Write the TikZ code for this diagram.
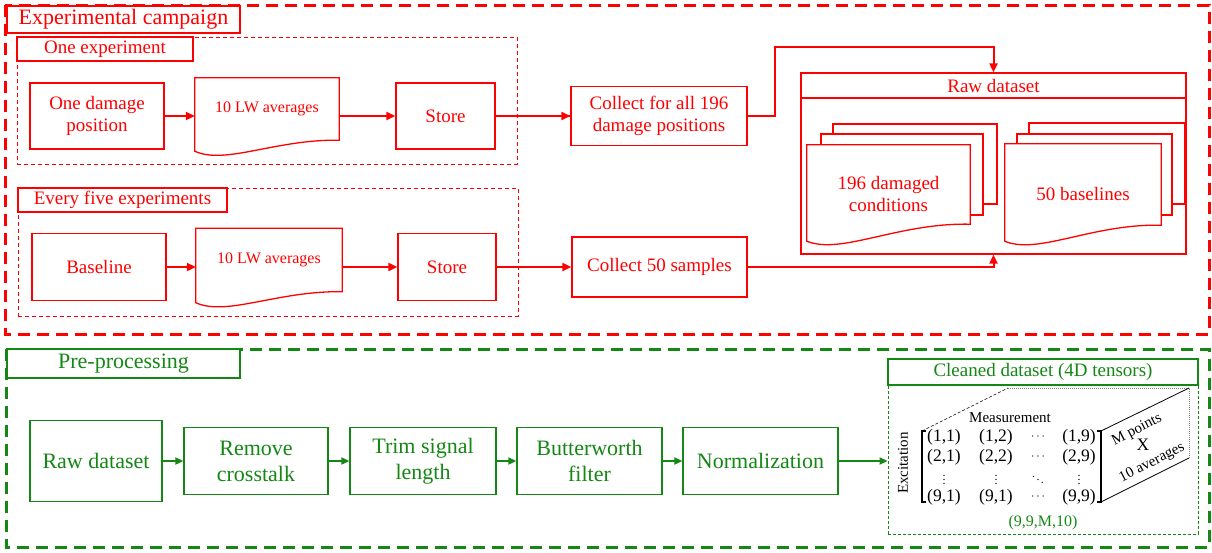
\documentclass[tikz,border=0pt]{standalone}
\usepackage{fontspec}
\setmainfont{Liberation Serif}
\usetikzlibrary{arrows.meta,calc}

\definecolor{campred}{RGB}{255,0,0}
\definecolor{procgreen}{RGB}{20,135,20}
\newcommand\setfs[2]{\fontsize{#1}{#2}\selectfont}

% Document shape with a wavy lower edge; the node spans top edge to the
% raised right-hand bottom corner, #2 is how far the left corner hangs below.
\newcommand\wavedoc[3]{%
  \draw[#3] (#1.north west) -- (#1.north east) -- (#1.south east)
    .. controls ($(#1.south west)!0.56!(#1.south east)+(0,{-0.1*#2})$)
       and ($(#1.south west)!0.21!(#1.south east)+(0,{#2+14})$)
    .. ($(#1.south west)+(0,#2)$) -- cycle;}

\tikzset{
  rbox/.style={draw=campred, line width=1.3pt, fill=white, inner sep=0pt,
    align=center, text=campred, font=\setfs{19}{22}},
  rtitle/.style={rbox, font=\setfs{22}{24}},
  rregion/.style={draw=campred, line width=0.9pt, dash pattern=on 4pt off 3pt,
    inner sep=0pt},
  rdoc/.style={inner sep=0pt, align=center, text=campred, font=\setfs{16}{19}},
  rdocline/.style={draw=campred, line width=1.3pt},
  rarr/.style={draw=campred, line width=2pt, -{Triangle[length=9pt,width=8pt]}},
  gbox/.style={draw=procgreen, line width=1.3pt, fill=white, inner sep=0pt,
    align=center, text=procgreen, font=\setfs{22}{26}},
  garr/.style={draw=procgreen, line width=1.8pt, -{Triangle[length=8pt,width=7pt]}},
  outer/.style={line width=3pt, dash pattern=on 12pt off 7pt},
  mtx/.style={inner sep=0pt, font=\setfs{17.5}{20}},
  mdots/.style={inner sep=0pt, font=\setfs{12}{14}},
  mlabel/.style={inner sep=0pt, font=\setfs{15}{17}},
}

\begin{document}
\begin{tikzpicture}[x=1pt, y=-1pt]
\useasboundingbox (0,0) rectangle (1212,552);

% ---------------- Experimental campaign ----------------
\draw[outer, campred] (5,5) rectangle (1209,334);
\node[rtitle, minimum width=233pt, minimum height=27pt] (camp) at (123.5,19.5) {Experimental campaign};

\node[rregion, minimum width=500pt, minimum height=127pt] (regA) at (267,100.5) {};
\node[rbox, minimum width=176pt, minimum height=24pt] (oneexp) at (105,49) {One experiment};

\node[rbox, minimum width=134pt, minimum height=66pt] (dmg) at (97,116) {One damage\\position};
\node[rdoc, minimum width=144pt, minimum height=62pt] (avg1) at (267,109) {10 LW averages};
\wavedoc{avg1}{11}{rdocline}
\node[rbox, minimum width=99pt, minimum height=66pt] (store1) at (445.5,116) {Store};
\node[rbox, minimum width=176pt, minimum height=59pt] (c196) at (659,116) {Collect for all 196\\damage positions};

\node[rregion, minimum width=500pt, minimum height=128pt] (regB) at (268,252) {};
\node[rbox, minimum width=209pt, minimum height=24pt] (fivexp) at (122.5,200) {Every five experiments};

\node[rbox, minimum width=134pt, minimum height=67pt] (base) at (99,267) {Baseline};
\node[rdoc, minimum width=146pt, minimum height=63pt] (avg2) at (269,260) {10 LW averages};
\wavedoc{avg2}{11}{rdocline}
\node[rbox, minimum width=98pt, minimum height=67pt] (store2) at (447,267) {Store};
\node[rbox, minimum width=175pt, minimum height=60pt] (c50) at (659.5,267) {Collect 50 samples};

% Raw dataset container with two stacks of documents
\node[rbox, minimum width=385pt, minimum height=156pt] (rawbody) at (993.5,176) {};
\node[rbox, minimum width=164pt, minimum height=80pt] (d196c) at (915,164) {};
\node[rbox, minimum width=162pt, minimum height=81pt] (d196b) at (902,174.5) {};
\node[inner sep=0pt, minimum width=163pt, minimum height=79pt] (d196a) at (888.5,184.5) {};
\wavedoc{d196a}{17}{rdocline, fill=white}
\node[rbox, draw=none, fill=none] (t196) at (888.5,194) {196 damaged\\conditions};

\node[rbox, minimum width=156pt, minimum height=81pt] (d50c) at (1107,163.5) {};
\node[rbox, minimum width=155pt, minimum height=81pt] (d50b) at (1094.5,174.5) {};
\node[inner sep=0pt, minimum width=156pt, minimum height=81pt] (d50a) at (1083,184.5) {};
\wavedoc{d50a}{16}{rdocline, fill=white}
\node[rbox, draw=none, fill=none] (t50) at (1083,194) {50 baselines};

\node[rbox, minimum width=385pt, minimum height=25pt] (rawhead) at (993.5,85.5) {Raw dataset};

% connectors
\draw[rarr] (dmg.east) -- (avg1.west |- dmg.east);
\draw[rarr] (avg1.east |- store1.west) -- (store1.west);
\draw[rarr, -] (store1.east) -- (c196.west |- store1.east);
\draw[rarr] (store1.east) -- (c196.west |- store1.east);
\coordinate (upbend) at ($(rawhead.north)+(0,-25)$);
\draw[rarr] (c196.east) -- ++(27,0) |- (upbend) -- (rawhead.north);

\draw[rarr] (base.east) -- (avg2.west |- base.east);
\draw[rarr] (avg2.east |- store2.west) -- (store2.west);
\draw[rarr] (store2.east) -- (c50.west |- store2.east);
\draw[rarr] (c50.east) -| (rawbody.south);

% ---------------- Pre-processing ----------------
\draw[outer, procgreen] (6,349) rectangle (1209,547);
\node[gbox, minimum width=233pt, minimum height=29pt] (pre) at (123.5,363.5) {Pre-processing};

\node[gbox, minimum width=132pt, minimum height=81pt] (graw) at (96,461) {Raw dataset};
\node[gbox, minimum width=144pt, minimum height=67pt] (gcross) at (256,461) {Remove\\crosstalk};
\node[gbox, minimum width=146pt, minimum height=67pt] (gtrim) at (423,461) {Trim signal\\length};
\node[gbox, minimum width=145pt, minimum height=67pt] (gbutter) at (589.5,461) {Butterworth\\filter};
\node[gbox, minimum width=155pt, minimum height=67pt] (gnorm) at (760.5,461) {Normalization};

\node[gbox, minimum width=310pt, minimum height=26pt, font=\setfs{19}{22}] (cleanhead) at (1043,372) {Cleaned dataset (4D tensors)};
\node[draw=procgreen, line width=0.9pt, dash pattern=on 3pt off 2pt, inner sep=0pt,
      minimum width=310pt, minimum height=149pt] (cleanbox) at (1043,459.5) {};

\draw[garr] (graw.east) -- (gcross.west);
\draw[garr] (gcross.east) -- (gtrim.west);
\draw[garr] (gtrim.east) -- (gbutter.west);
\draw[garr] (gbutter.east) -- (gnorm.west);
\draw[garr] (gnorm.east) -- (cleanbox.west |- gnorm.east);

% tensor sketch: matrix face with depth lines
\coordinate (lbt) at (922,431);
\coordinate (lbb) at (922,502);
\coordinate (rbt) at (1101,431);
\coordinate (rbb) at (1101,502);
\coordinate (bk1) at (1008,388);
\coordinate (bk2) at (1189,388);
\coordinate (bk3) at (1189,458);
\draw[black, line width=0.6pt, densely dashed] (lbt) -- (bk1);
\draw[gray, line width=1pt, densely dotted] (bk1) -- (bk2) -- (bk3);
\draw[black, line width=0.8pt] (rbt) -- (bk2);
\draw[black, line width=0.8pt] (rbb) -- (bk3);
\draw[black, line width=1.2pt] ($(lbt)+(4,0)$) -- (lbt) -- (lbb) -- ($(lbb)+(4,0)$);
\draw[black, line width=1.2pt] ($(rbt)+(-4,0)$) -- (rbt) -- (rbb) -- ($(rbb)+(-4,0)$);

\node[mtx] (m11) at (944,437) {(1,1)};
\node[mtx] (m12) at (996,437) {(1,2)};
\node[mdots] (m1d) at (1038,437) {$\cdots$};
\node[mtx] (m19) at (1079,437) {(1,9)};
\node[mtx] (m21) at (944,457) {(2,1)};
\node[mtx] (m22) at (996,457) {(2,2)};
\node[mdots] (m2d) at (1038,457) {$\cdots$};
\node[mtx] (m29) at (1079,457) {(2,9)};
\node[mdots] (mv1) at (944,477) {$\vdots$};
\node[mdots] (mv2) at (996,477) {$\vdots$};
\node[mdots] (mdd) at (1038,477) {$\ddots$};
\node[mdots] (mv9) at (1079,477) {$\vdots$};
\node[mtx] (m91) at (944,497) {(9,1)};
\node[mtx] (m92) at (996,497) {(9,1)};
\node[mdots] (m9d) at (1038,497) {$\cdots$};
\node[mtx] (m99) at (1079,497) {(9,9)};

\node[mlabel] (meas) at (1010,418) {Measurement};
\node[mlabel, rotate=90] (exc) at (903,463) {Excitation};
\node[mlabel, rotate=27] (mpts) at (1137,430) {M points};
\node[mtx] (times) at (1143,445) {X};
\node[mlabel, rotate=27] (avgs) at (1152,463) {10 averages};
\node[mlabel, text=procgreen, font=\setfs{16}{18}] (shape) at (1043,523) {(9,9,M,10)};

\end{tikzpicture}
\end{document}
